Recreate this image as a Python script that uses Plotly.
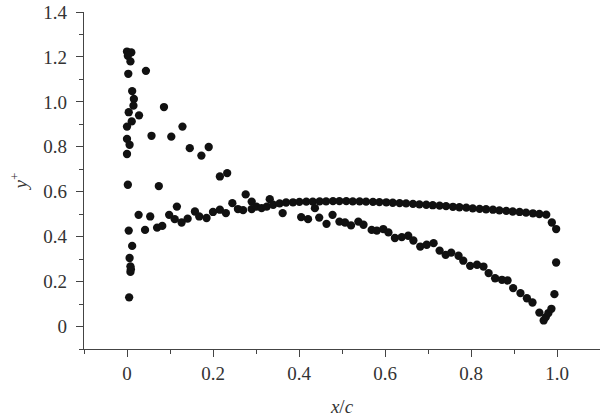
import plotly.graph_objects as go

# Series 1: leading-edge peak values and the branch that falls toward the trailing edge
s1_x = [0.0, 0.010, 0.002, 0.008, 0.003, 0.044, 0.012, 0.016, 0.015, 0.004, 0.028, 0.086,
        0.011, 0.0, 0.129, 0.057, 0.103, 0.0, 0.006, 0.146, 0.190, 0.0, 0.173, 0.002, 0.074,
        0.216, 0.233, 0.276, 0.332, 0.290,
        0.362, 0.405, 0.421, 0.437, 0.447, 0.464, 0.478, 0.494, 0.507, 0.521, 0.538, 0.550,
        0.569, 0.581, 0.596, 0.608, 0.623, 0.639, 0.654, 0.666, 0.682, 0.697, 0.713, 0.727,
        0.741, 0.754, 0.771, 0.782, 0.798, 0.814, 0.829, 0.841, 0.856, 0.872, 0.885, 0.898,
        0.915, 0.930, 0.943, 0.959, 0.969, 0.974, 0.980, 0.987, 0.994, 0.998]
s1_y = [1.224, 1.220, 1.205, 1.180, 1.125, 1.138, 1.048, 1.013, 0.983, 0.954, 0.940, 0.977,
        0.913, 0.890, 0.890, 0.849, 0.845, 0.835, 0.809, 0.794, 0.799, 0.768, 0.761, 0.631, 0.625,
        0.668, 0.683, 0.588, 0.567, 0.556,
        0.505, 0.487, 0.478, 0.527, 0.485, 0.457, 0.497, 0.467, 0.463, 0.450, 0.467, 0.453,
        0.430, 0.427, 0.434, 0.419, 0.394, 0.398, 0.404, 0.383, 0.356, 0.364, 0.371, 0.338,
        0.319, 0.329, 0.315, 0.293, 0.270, 0.275, 0.267, 0.238, 0.215, 0.208, 0.205, 0.171,
        0.149, 0.126, 0.107, 0.062, 0.027, 0.042, 0.060, 0.079, 0.144, 0.285]

# Series 2: low leading-edge values, rising branch and the flat plateau to the trailing edge
s2_x = [0.005, 0.008, 0.009, 0.008, 0.006, 0.012, 0.004,
        0.027, 0.042, 0.054, 0.070, 0.082, 0.098, 0.111, 0.116, 0.127, 0.141, 0.158, 0.168,
        0.185, 0.200, 0.216, 0.230, 0.245, 0.258, 0.270, 0.290, 0.301, 0.313, 0.325, 0.340,
        0.355, 0.370, 0.386, 0.401, 0.417, 0.432, 0.448, 0.463, 0.479, 0.494, 0.510, 0.525,
        0.541, 0.556, 0.572, 0.587, 0.603, 0.618, 0.634, 0.649, 0.665, 0.680, 0.696, 0.711,
        0.727, 0.742, 0.758, 0.773, 0.789, 0.804, 0.820, 0.835, 0.851, 0.866, 0.882, 0.897,
        0.913, 0.928, 0.944, 0.959, 0.975, 0.988, 0.998]
s2_y = [0.130, 0.243, 0.255, 0.268, 0.305, 0.359, 0.427,
        0.497, 0.430, 0.490, 0.440, 0.448, 0.497, 0.478, 0.534, 0.463, 0.480, 0.512, 0.490,
        0.483, 0.510, 0.520, 0.505, 0.549, 0.523, 0.518, 0.523, 0.534, 0.527, 0.534, 0.542,
        0.548, 0.552, 0.553, 0.555, 0.556, 0.556, 0.557, 0.557, 0.558, 0.558, 0.558, 0.557,
        0.557, 0.556, 0.555, 0.554, 0.553, 0.551, 0.549, 0.548, 0.546, 0.544, 0.542, 0.540,
        0.538, 0.536, 0.533, 0.531, 0.529, 0.526, 0.524, 0.522, 0.520, 0.517, 0.515, 0.512,
        0.510, 0.507, 0.504, 0.501, 0.498, 0.463, 0.434]

x_ticks = [0, 0.2, 0.4, 0.6, 0.8, 1.0]
x_tick_labels = ["0", "0.2", "0.4", "0.6", "0.8", "1.0"]
x_minor = [-0.1, 0.1, 0.3, 0.5, 0.7, 0.9, 1.1]
y_ticks = [0, 0.2, 0.4, 0.6, 0.8, 1.0, 1.2, 1.4]
y_tick_labels = ["0", "0.2", "0.4", "0.6", "0.8", "1.0", "1.2", "1.4"]
y_minor = [-0.1, 0.1, 0.3, 0.5, 0.7, 0.9, 1.1, 1.3]

marker = dict(color="#111111", size=8.3, line=dict(width=0))
fig = go.Figure()
fig.add_trace(go.Scatter(x=s1_x, y=s1_y, mode="markers", marker=marker, showlegend=False,
                         hoverinfo="skip"))
fig.add_trace(go.Scatter(x=s2_x, y=s2_y, mode="markers", marker=marker, showlegend=False,
                         hoverinfo="skip"))

font = dict(family="Liberation Serif", size=19, color="#333333")
axis_common = dict(showgrid=False, zeroline=False, showline=True, linecolor="#444444",
                   linewidth=1.2, ticks="outside", ticklen=7, tickwidth=1.2,
                   tickcolor="#444444", tickfont=font, tickmode="array", automargin=False)

fig.update_layout(
    width=600, height=418,
    margin=dict(l=84, r=0, t=12, b=69),
    paper_bgcolor="white", plot_bgcolor="white",
    font=font,
    xaxis=dict(range=[-0.1, 1.1], tickvals=x_ticks, ticktext=x_tick_labels,
               minor=dict(tickmode="array", tickvals=x_minor, ticklen=4, tickwidth=1.2,
                          tickcolor="#444444", ticks="outside"),
               title=dict(text="<i>x</i>/<i>c</i>", font=font, standoff=16),
               **axis_common),
    yaxis=dict(range=[-0.1, 1.4], tickvals=y_ticks, ticktext=y_tick_labels,
               ticklabelstandoff=5,
               minor=dict(tickmode="array", tickvals=y_minor, ticklen=4, tickwidth=1.2,
                          tickcolor="#444444", ticks="outside"),
               title=dict(text="<i>y</i><sup>+</sup>", font=font, standoff=10),
               **axis_common),
)

fig.write_html("out.html", config={"displayModeBar": False},
               post_script="document.body.style.margin='0';")
